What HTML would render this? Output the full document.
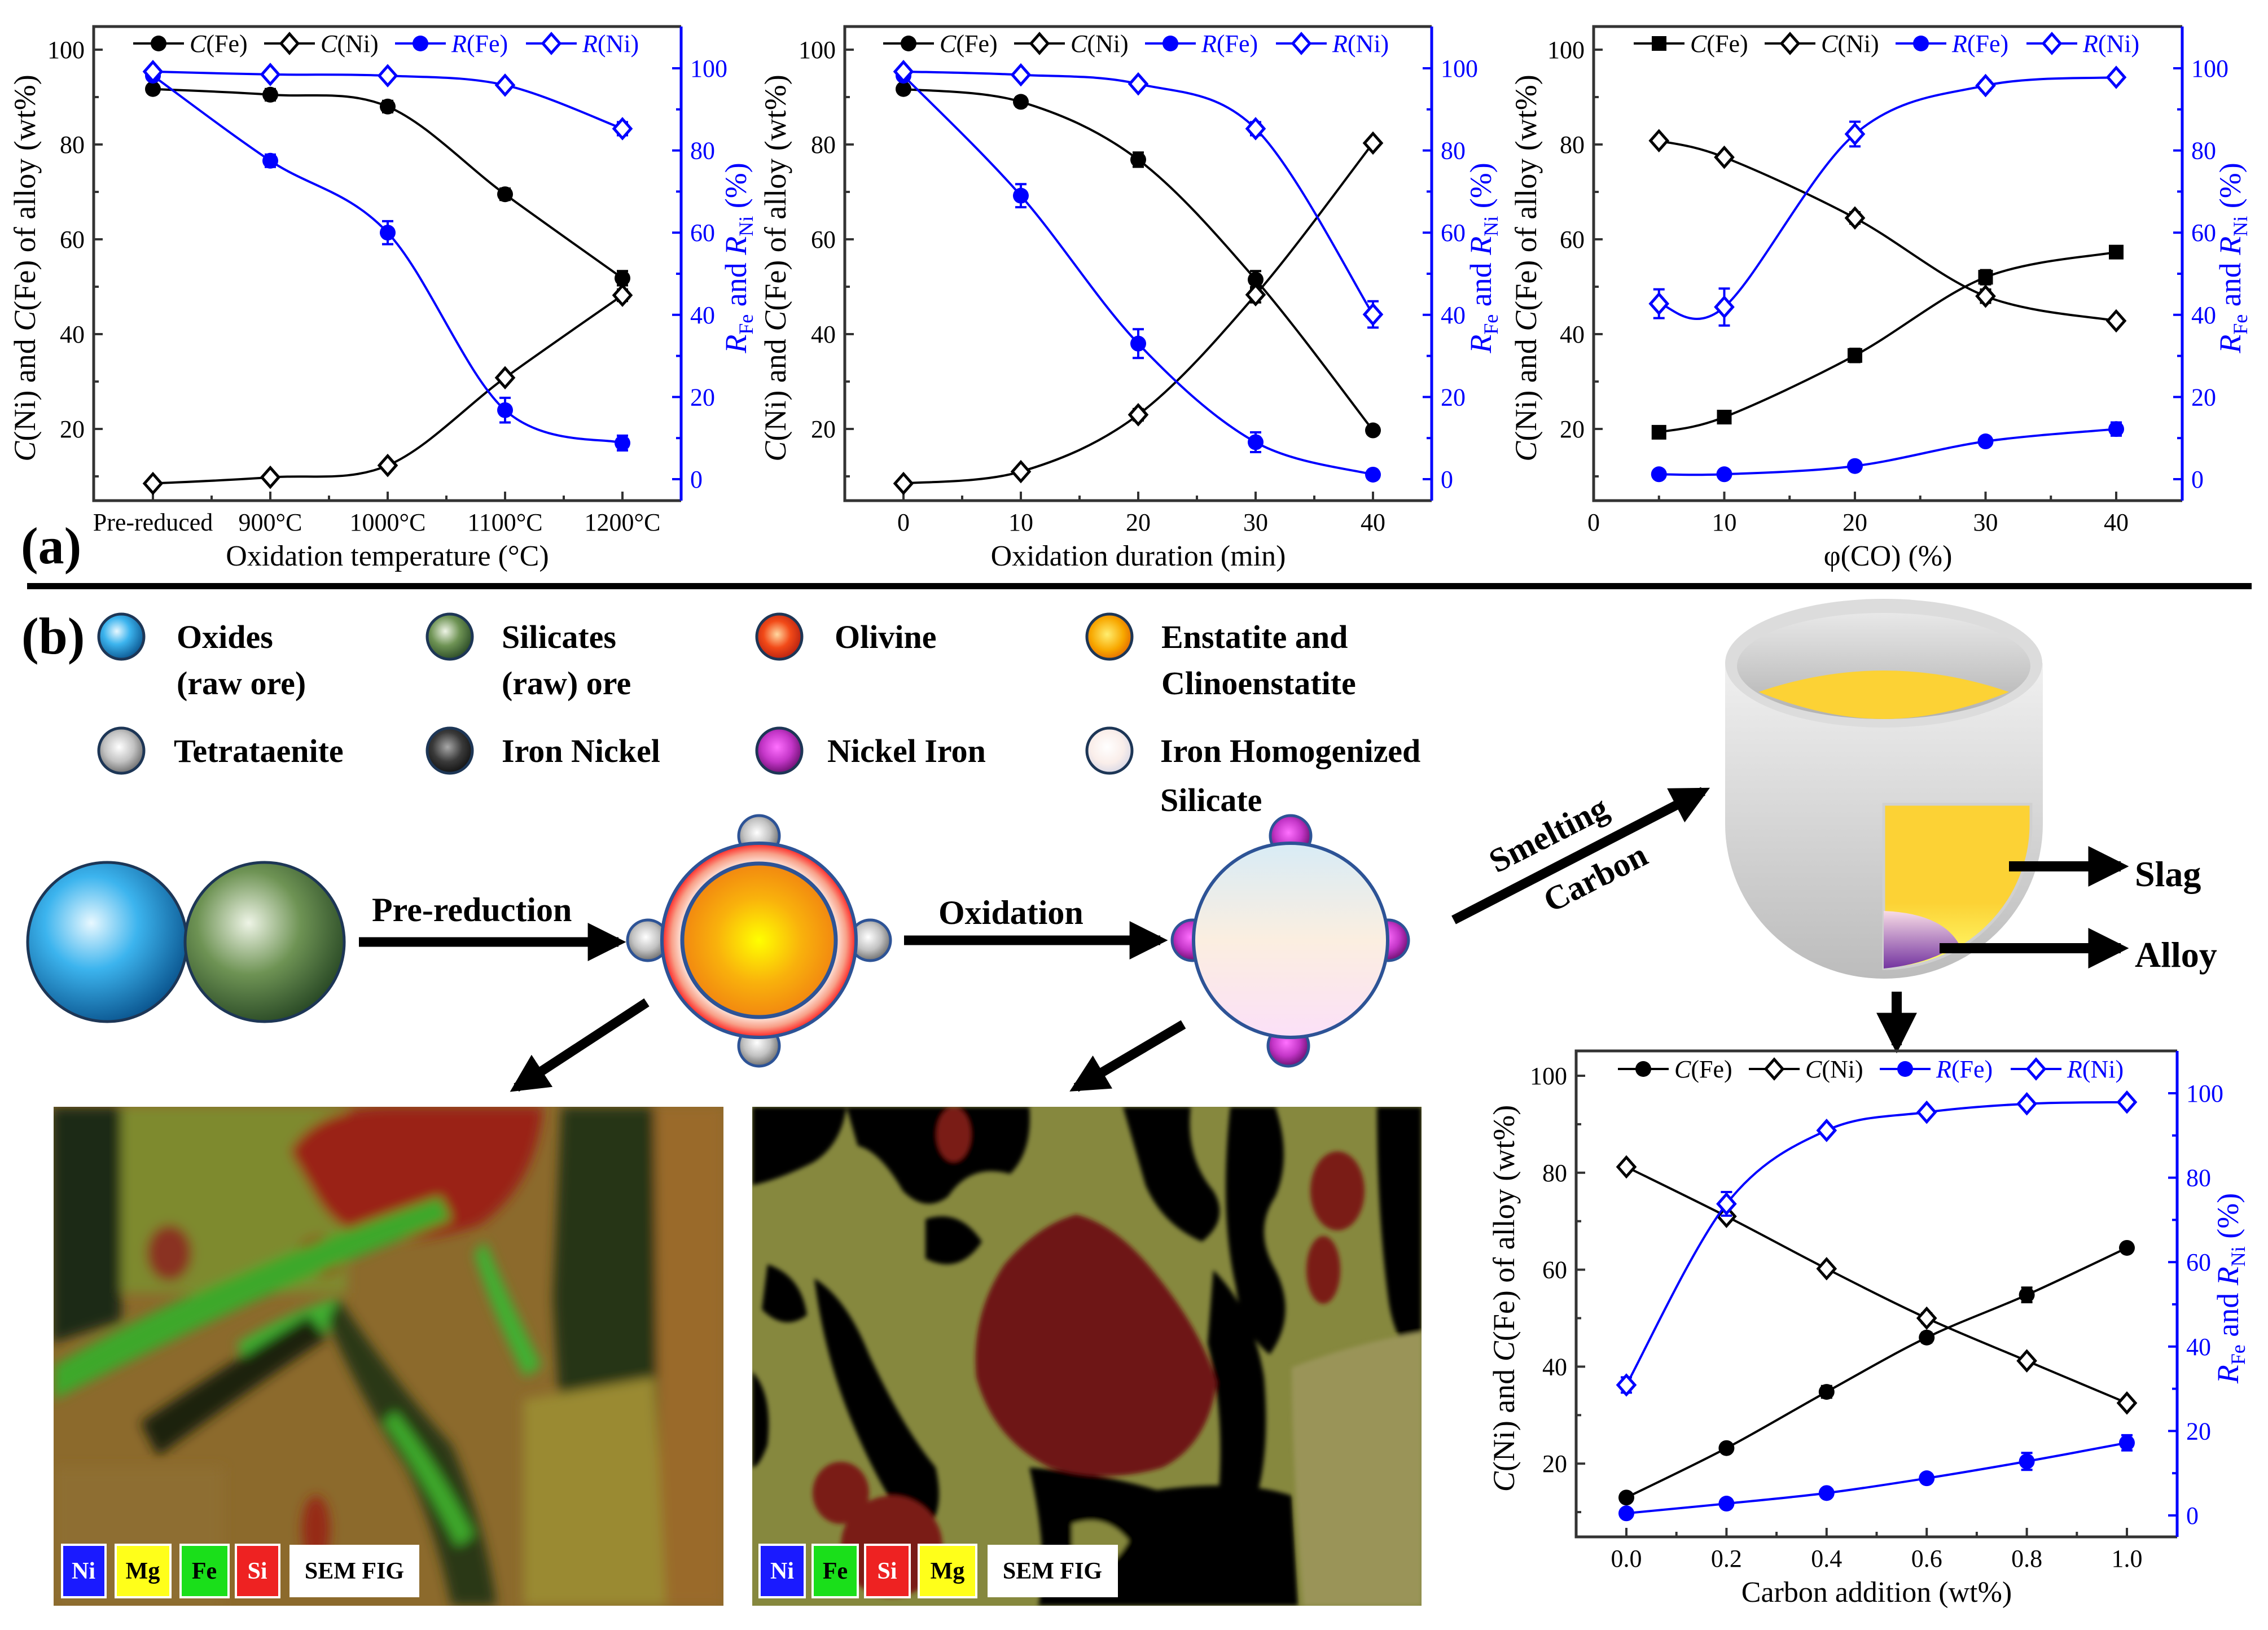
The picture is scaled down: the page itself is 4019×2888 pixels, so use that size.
<!DOCTYPE html>
<html><head><meta charset="utf-8"><title>Figure</title>
<style>
html,body{margin:0;padding:0;background:#fff;}
svg{display:block;}
svg text{font-family:"Liberation Serif","Times New Roman",serif;}
</style></head>
<body>
<svg id="fig" xmlns="http://www.w3.org/2000/svg" width="4019" height="2888" viewBox="0 0 4019 2888" font-family="Liberation Serif, serif">
<defs>
<radialGradient id="gOx" cx="0.4" cy="0.38" r="0.65"><stop offset="0" stop-color="#e8f8ff"/><stop offset="0.45" stop-color="#3cb4ee"/><stop offset="1" stop-color="#0b5690"/></radialGradient>
<radialGradient id="gSi" cx="0.4" cy="0.38" r="0.65"><stop offset="0" stop-color="#eef4e6"/><stop offset="0.5" stop-color="#6e9354"/><stop offset="1" stop-color="#2a4a26"/></radialGradient>
<radialGradient id="gOl" cx="0.45" cy="0.45" r="0.6"><stop offset="0" stop-color="#ffd8a0"/><stop offset="0.5" stop-color="#f24a18"/><stop offset="1" stop-color="#b01c10"/></radialGradient>
<radialGradient id="gEn" cx="0.45" cy="0.45" r="0.6"><stop offset="0" stop-color="#ffee70"/><stop offset="0.6" stop-color="#f8a800"/><stop offset="1" stop-color="#e06400"/></radialGradient>
<radialGradient id="gCore" cx="0.5" cy="0.5" r="0.5"><stop offset="0" stop-color="#ffff00"/><stop offset="0.55" stop-color="#f9b20c"/><stop offset="1" stop-color="#f28810"/></radialGradient>
<radialGradient id="gTe" cx="0.45" cy="0.42" r="0.6"><stop offset="0" stop-color="#ffffff"/><stop offset="0.55" stop-color="#c2c2c2"/><stop offset="1" stop-color="#6a6a6a"/></radialGradient>
<radialGradient id="gIN" cx="0.45" cy="0.42" r="0.6"><stop offset="0" stop-color="#a8a8a8"/><stop offset="0.55" stop-color="#3a3a3a"/><stop offset="1" stop-color="#111"/></radialGradient>
<radialGradient id="gNI" cx="0.45" cy="0.42" r="0.6"><stop offset="0" stop-color="#ff70ff"/><stop offset="0.55" stop-color="#c436c8"/><stop offset="1" stop-color="#6a0e6e"/></radialGradient>
<radialGradient id="gHo" cx="0.45" cy="0.42" r="0.6"><stop offset="0" stop-color="#ffffff"/><stop offset="0.6" stop-color="#faeeea"/><stop offset="1" stop-color="#d8d8e6"/></radialGradient>
<radialGradient id="gRing" cx="0.5" cy="0.5" r="0.5"><stop offset="0.78" stop-color="#fff0e8"/><stop offset="0.9" stop-color="#f8a088"/><stop offset="1" stop-color="#ff2020"/></radialGradient>
<linearGradient id="gHom" x1="0" y1="0" x2="0" y2="1"><stop offset="0" stop-color="#d8ecf6"/><stop offset="0.5" stop-color="#fbeee0"/><stop offset="1" stop-color="#fbe0f8"/></linearGradient>
<linearGradient id="gCru" x1="0" y1="0" x2="0" y2="1"><stop offset="0" stop-color="#f0f0f0"/><stop offset="1" stop-color="#bcbcbc"/></linearGradient>
<linearGradient id="gCruIn" x1="0" y1="0" x2="0" y2="1"><stop offset="0" stop-color="#e8e8e8"/><stop offset="1" stop-color="#b0b0b0"/></linearGradient>
<linearGradient id="gSlag" x1="0" y1="0" x2="0" y2="1"><stop offset="0" stop-color="#fcd235"/><stop offset="0.6" stop-color="#fcd235"/><stop offset="1" stop-color="#ffff70"/></linearGradient>
<linearGradient id="gAlloy" x1="0" y1="0" x2="0" y2="1"><stop offset="0" stop-color="#f8dce6"/><stop offset="1" stop-color="#7434a0"/></linearGradient>
<filter id="blur1"><feGaussianBlur stdDeviation="10"/></filter>
<filter id="blur2"><feGaussianBlur stdDeviation="4"/></filter>
<clipPath id="clipS1"><rect x="95" y="1961" width="1187" height="884"/></clipPath>
<clipPath id="clipS2"><rect x="1333" y="1961" width="1186" height="884"/></clipPath>
<marker id="ah" viewBox="0 0 10 10" refX="8" refY="5" markerWidth="4" markerHeight="4" orient="auto"><path d="M0,0 L10,5 L0,10 z" fill="#000"/></marker>
</defs>

<rect x="48" y="1033" width="3942" height="11" fill="#000"/>
<text x="37" y="998" font-size="92" font-weight="bold">(a)</text>
<text x="38" y="1158" font-size="92" font-weight="bold">(b)</text>

<g font-size="58" font-weight="bold">
  <circle cx="215" cy="1128" r="40" fill="url(#gOx)" stroke="#1d3656" stroke-width="5"/>
  <text x="313" y="1148">Oxides</text>
  <text x="313" y="1230">(raw ore)</text>
  <circle cx="797" cy="1128" r="40" fill="url(#gSi)" stroke="#1d3656" stroke-width="5"/>
  <text x="889" y="1148">Silicates</text>
  <text x="889" y="1230">(raw) ore</text>
  <circle cx="1381" cy="1128" r="40" fill="url(#gOl)" stroke="#1d3656" stroke-width="5"/>
  <text x="1479" y="1148">Olivine</text>
  <circle cx="1966" cy="1128" r="40" fill="url(#gEn)" stroke="#1d3656" stroke-width="5"/>
  <text x="2058" y="1148">Enstatite and</text>
  <text x="2058" y="1230">Clinoenstatite</text>
  <circle cx="215" cy="1330" r="40" fill="url(#gTe)" stroke="#1d3656" stroke-width="5"/>
  <text x="308" y="1350">Tetrataenite</text>
  <circle cx="797" cy="1330" r="40" fill="url(#gIN)" stroke="#1d3656" stroke-width="5"/>
  <text x="889" y="1350">Iron Nickel</text>
  <circle cx="1381" cy="1330" r="40" fill="url(#gNI)" stroke="#1d3656" stroke-width="5"/>
  <text x="1466" y="1350">Nickel Iron</text>
  <circle cx="1966" cy="1330" r="40" fill="url(#gHo)" stroke="#1d3656" stroke-width="5"/>
  <text x="2056" y="1350">Iron Homogenized</text>
  <text x="2056" y="1437">Silicate</text>
</g>

<g>
  <circle cx="190" cy="1669" r="141" fill="url(#gOx)" stroke="#1d3656" stroke-width="5"/>
  <circle cx="469" cy="1669" r="141" fill="url(#gSi)" stroke="#1d3656" stroke-width="5"/>
  <line x1="636" y1="1669" x2="1096" y2="1669" stroke="#000" stroke-width="17" marker-end="url(#ah)"/>
  <text x="659" y="1632" font-size="60" font-weight="bold">Pre-reduction</text>
  <circle cx="1345" cy="1481" r="36" fill="url(#gTe)" stroke="#2d5396" stroke-width="5"/>
  <circle cx="1345" cy="1853" r="36" fill="url(#gTe)" stroke="#2d5396" stroke-width="5"/>
  <circle cx="1148" cy="1666" r="36" fill="url(#gTe)" stroke="#2d5396" stroke-width="5"/>
  <circle cx="1542" cy="1666" r="36" fill="url(#gTe)" stroke="#2d5396" stroke-width="5"/>
  <circle cx="1345" cy="1666" r="172" fill="url(#gRing)" stroke="#2d5396" stroke-width="6"/>
  <circle cx="1345" cy="1666" r="136" fill="url(#gCore)" stroke="#2d5396" stroke-width="7"/>
  <line x1="1602" y1="1666" x2="2056" y2="1666" stroke="#000" stroke-width="17" marker-end="url(#ah)"/>
  <text x="1663" y="1637" font-size="60" font-weight="bold">Oxidation</text>
  <circle cx="2287" cy="1481" r="36" fill="url(#gNI)" stroke="#2d5396" stroke-width="5"/>
  <circle cx="2283" cy="1853" r="36" fill="url(#gNI)" stroke="#2d5396" stroke-width="5"/>
  <circle cx="2113" cy="1666" r="36" fill="url(#gNI)" stroke="#2d5396" stroke-width="5"/>
  <circle cx="2460" cy="1666" r="36" fill="url(#gNI)" stroke="#2d5396" stroke-width="5"/>
  <circle cx="2287" cy="1666" r="172" fill="url(#gHom)" stroke="#2d5396" stroke-width="6"/>
  <line x1="1146" y1="1776" x2="915" y2="1927" stroke="#000" stroke-width="17" marker-end="url(#ah)"/>
  <line x1="2097" y1="1815" x2="1907" y2="1927" stroke="#000" stroke-width="17" marker-end="url(#ah)"/>
  <line x1="2576" y1="1630" x2="3018" y2="1402" stroke="#000" stroke-width="17" marker-end="url(#ah)"/>
  <text x="2745" y="1498" font-size="60" font-weight="bold" text-anchor="middle" transform="rotate(-27 2745 1480)">Smelting</text>
  <text x="2827" y="1575" font-size="60" font-weight="bold" text-anchor="middle" transform="rotate(-27 2827 1555)">Carbon</text>
  <path d="M3057,1175 L3057,1460 A281.5 274 0 0 0 3620,1460 L3620,1175 Z" fill="url(#gCru)"/>
  <ellipse cx="3338" cy="1175" rx="281" ry="114" fill="#dcdcdc"/>
  <ellipse cx="3338" cy="1180" rx="260" ry="94" fill="url(#gCruIn)"/>
  <path d="M3116,1226 Q3338,1150 3560,1226 Q3440,1274 3338,1274 Q3236,1274 3116,1226 Z" fill="#fcd235"/>
  <path d="M3338,1425 L3599,1425 L3599,1460 A261 256 0 0 1 3338,1716 Z" fill="url(#gSlag)" stroke="#d0d0d0" stroke-width="5"/>
  <path d="M3338,1614 Q3440,1618 3471,1672 Q3420,1708 3338,1716 Z" fill="url(#gAlloy)"/>
  <line x1="3560" y1="1535" x2="3758" y2="1535" stroke="#000" stroke-width="18" marker-end="url(#ah)"/>
  <text x="3783" y="1570" font-size="64" font-weight="bold">Slag</text>
  <line x1="3437" y1="1680" x2="3758" y2="1680" stroke="#000" stroke-width="18" marker-end="url(#ah)"/>
  <text x="3783" y="1713" font-size="64" font-weight="bold">Alloy</text>
  <line x1="3361" y1="1757" x2="3361" y2="1852" stroke="#000" stroke-width="18" marker-end="url(#ah)"/>
</g>

<g clip-path="url(#clipS1)">
  <rect x="95" y="1961" width="1187" height="884" fill="#8c6a2c"/>
  <g filter="url(#blur1)">
    <rect x="95" y="1961" width="520" height="330" fill="#7e8a2e"/>
    <path d="M91,1961 L215,1961 L215,2340 L91,2380 Z" fill="#1e2a12"/>
    <path d="M514,2040 Q560,1960 700,1961 L962,1961 Q950,2100 850,2170 Q760,2200 680,2196 Q600,2190 560,2120 Z" fill="#9a2418"/>
    <path d="M995,1961 L1128,1961 L1110,2032 L1000,2040 Z" fill="#a82012"/>
    <ellipse cx="570" cy="2225" rx="45" ry="35" fill="#9a2a18"/>
    <path d="M995,1961 L1160,1961 L1170,2845 L1020,2845 Q990,2500 980,2300 Z" fill="#283416"/>
    <path d="M1160,1961 L1282,1961 L1282,2845 L1170,2845 Z" fill="#9a6a2a"/>
    <path d="M928,2480 L1160,2440 L1180,2845 L928,2845 Z" fill="#9a8a32"/>
    <path d="M95,2420 Q250,2330 420,2260 Q600,2180 780,2120 L800,2160 Q620,2230 440,2310 Q270,2390 95,2480 Z" fill="#3ca82a"/>
    <path d="M420,2380 Q520,2320 600,2300 L620,2340 Q540,2370 440,2430 Z" fill="#40b030"/>
    <path d="M860,2200 Q900,2300 960,2420 L930,2440 Q870,2320 840,2220 Z" fill="#40b030"/>
    <path d="M249,2520 Q400,2420 547,2330 L580,2370 Q430,2470 280,2580 Z" fill="#1a2410"/>
    <path d="M600,2300 Q700,2450 800,2560 Q860,2700 880,2845 L800,2845 Q770,2700 720,2600 Q640,2480 580,2340 Z" fill="#2a3816"/>
    <path d="M700,2500 Q780,2600 840,2720 L810,2740 Q750,2620 680,2520 Z" fill="#3ca82a"/>
    <ellipse cx="560" cy="2710" rx="25" ry="60" fill="#962a18"/>
    <ellipse cx="300" cy="2220" rx="40" ry="50" fill="#8a3020"/>
    <rect x="95" y="2600" width="300" height="245" fill="#8e6e30"/>
  </g>
</g>
<g clip-path="url(#clipS2)">
  <rect x="1333" y="1961" width="1186" height="884" fill="#86883e"/>
  <g filter="url(#blur2)">
    <path d="M1333,1961 L1500,1961 Q1490,2030 1440,2060 Q1380,2090 1333,2100 Z" fill="#000"/>
    <path d="M1500,1961 L1824,1961 Q1830,2040 1790,2080 Q1720,2060 1680,2120 Q1640,2150 1600,2110 Q1560,2040 1520,2030 Z" fill="#000"/>
    <path d="M1640,2160 Q1700,2140 1740,2200 Q1700,2260 1640,2230 Z" fill="#000"/>
    <path d="M1990,1961 L2110,1961 Q2100,2050 2150,2110 Q2180,2160 2130,2200 Q2060,2170 2030,2100 Z" fill="#000"/>
    <path d="M2180,1961 L2260,1961 Q2290,2050 2260,2120 Q2220,2180 2260,2250 Q2300,2330 2250,2400 Q2200,2360 2190,2280 Q2160,2150 2180,1961 Z" fill="#000"/>
    <path d="M2440,1961 L2519,1961 L2519,2420 Q2470,2380 2460,2300 Q2440,2150 2440,1961 Z" fill="#000"/>
    <path d="M1443,2265 Q1500,2300 1540,2400 Q1600,2530 1658,2600 Q1680,2700 1620,2720 Q1560,2640 1510,2520 Q1460,2400 1443,2265 Z" fill="#000"/>
    <path d="M1360,2240 Q1420,2260 1430,2330 Q1390,2360 1350,2320 Z" fill="#000"/>
    <path d="M1333,2430 Q1370,2470 1360,2560 Q1345,2600 1333,2600 Z" fill="#000"/>
    <path d="M1824,2600 Q1950,2610 2050,2640 Q2200,2620 2289,2650 L2300,2845 L1840,2845 Q1860,2760 1824,2600 Z" fill="#000"/>
    <path d="M1900,2700 Q1960,2680 2000,2730 Q1960,2800 1900,2780 Z" fill="#86883e"/>
    <path d="M2150,2250 Q2220,2320 2240,2440 Q2250,2560 2230,2640 L2160,2640 Q2170,2500 2140,2380 Z" fill="#000"/>
    <path d="M1907,2152 Q1980,2170 2050,2260 Q2130,2360 2156,2450 Q2140,2560 2060,2600 Q1960,2630 1860,2600 Q1760,2550 1730,2440 Q1720,2330 1780,2240 Q1840,2170 1907,2152 Z" fill="#6e1612"/>
    <ellipse cx="1580" cy="2740" rx="90" ry="90" fill="#7a1c16"/>
    <ellipse cx="1490" cy="2645" rx="50" ry="55" fill="#7a1c16"/>
    <ellipse cx="2370" cy="2110" rx="48" ry="70" fill="#7a1c16"/>
    <ellipse cx="2345" cy="2250" rx="30" ry="60" fill="#7a1c16"/>
    <ellipse cx="1690" cy="2010" rx="30" ry="48" fill="#7a1c16"/>
    <path d="M2289,2423 Q2400,2380 2519,2360 L2519,2845 L2310,2845 Q2290,2600 2289,2423 Z" fill="#9a9458"/>
  </g>
</g>
<g font-size="42" font-weight="bold" text-anchor="middle">
  <rect x="110" y="2737" width="77" height="93" fill="#1a1aff" stroke="#fff" stroke-width="4"/><text x="148" y="2797" fill="#fff">Ni</text>
  <rect x="205" y="2737" width="97" height="93" fill="#ffff1a" stroke="#fff" stroke-width="4"/><text x="253" y="2797">Mg</text>
  <rect x="320" y="2737" width="85" height="93" fill="#1adf1a" stroke="#fff" stroke-width="4"/><text x="362" y="2797">Fe</text>
  <rect x="418" y="2737" width="77" height="93" fill="#ee2222" stroke="#fff" stroke-width="4"/><text x="456" y="2797" fill="#fff">Si</text>
  <rect x="513" y="2737" width="230" height="93" fill="#fff"/><text x="628" y="2797">SEM FIG</text>
</g>
<g font-size="42" font-weight="bold" text-anchor="middle">
  <rect x="1346" y="2737" width="80" height="93" fill="#1a1aff" stroke="#fff" stroke-width="4"/><text x="1386" y="2797" fill="#fff">Ni</text>
  <rect x="1440" y="2737" width="80" height="93" fill="#1adf1a" stroke="#fff" stroke-width="4"/><text x="1480" y="2797">Fe</text>
  <rect x="1533" y="2737" width="79" height="93" fill="#ee2222" stroke="#fff" stroke-width="4"/><text x="1572" y="2797" fill="#fff">Si</text>
  <rect x="1628" y="2737" width="102" height="93" fill="#ffff1a" stroke="#fff" stroke-width="4"/><text x="1679" y="2797">Mg</text>
  <rect x="1750" y="2737" width="231" height="93" fill="#fff"/><text x="1865" y="2797">SEM FIG</text>
</g>

<g id="charts"></g>
</svg>

<script>
// ---------- chart data ----------
const c1Cats = ["Pre-reduced","900°C","1000°C","1100°C","1200°C"];
const c1X = [0,1,2,3,4];
const c1CFe = [91.7,90.5,88.0,69.5,51.8];
const c1CNi = [8.5,9.8,12.3,30.8,48.2];
const c1RFe = [98.2,77.5,60.0,16.8,8.8];
const c1RNi = [99.2,98.5,98.2,95.9,85.3];
const c1ErrCFe = [0.6,1.2,1.2,1.2,1.5];
const c1ErrCNi = [0.4,0.5,0.6,0.8,1.2];
const c1ErrRFe = [0.8,1.5,2.8,3.0,1.8];
const c1ErrRNi = [0.5,0.5,0.6,0.8,1.6];

const c2X = [0,10,20,30,40];
const c2Ticks = ["0","10","20","30","40"];
const c2CFe = [91.7,89.0,76.8,51.5,19.7];
const c2CNi = [8.5,11.0,23.0,48.3,80.3];
const c2RFe = [98.2,69.0,33.0,9.0,1.1];
const c2RNi = [99.2,98.4,96.2,85.3,40.1];
const c2ErrCFe = [0.6,1.0,1.5,1.8,0.6];
const c2ErrCNi = [0.4,0.5,1.2,1.6,0.6];
const c2ErrRFe = [0.8,2.8,3.5,2.4,0.6];
const c2ErrRNi = [0.5,0.6,0.8,1.6,3.2];

const c3X = [5,10,20,30,40];
const c3Ticks = ["0","10","20","30","40"];
const c3CFe = [19.3,22.5,35.5,52.0,57.3];
const c3CNi = [80.8,77.3,64.5,48.0,42.8];
const c3RFe = [1.2,1.2,3.2,9.2,12.2];
const c3RNi = [42.7,41.9,84.0,95.8,97.8];
const c3ErrCFe = [0.6,1.0,1.4,1.5,1.0];
const c3ErrCNi = [0.5,0.8,1.2,1.4,0.8];
const c3ErrRFe = [0.4,0.4,0.6,0.8,1.6];
const c3ErrRNi = [3.5,4.5,3.0,1.2,0.8];

const c4X = [0,0.2,0.4,0.6,0.8,1.0];
const c4Ticks = ["0.0","0.2","0.4","0.6","0.8","1.0"];
const c4CFe = [13.0,23.2,34.8,46.0,54.8,64.5];
const c4CNi = [81.2,71.0,60.2,50.0,41.2,32.5];
const c4RFe = [0.5,2.8,5.3,8.8,12.8,17.2];
const c4RNi = [30.9,73.8,91.2,95.5,97.5,97.9];
const c4ErrCFe = [0.6,0.6,1.2,1.0,1.5,0.6];
const c4ErrCNi = [0.5,0.6,0.6,1.0,0.8,0.6];
const c4ErrRFe = [0.4,0.6,0.6,0.6,2.0,1.8];
const c4ErrRNi = [1.8,2.8,1.0,0.8,0.6,0.6];

const leftTicks = [20,40,60,80,100];
const rightTicks = [0,20,40,60,80,100];

// ---------- rendering ----------
const NS = "http://www.w3.org/2000/svg";
const root = document.getElementById("charts");
function el(tag, attrs, parent) {
  const e = document.createElementNS(NS, tag);
  for (const k in attrs) e.setAttribute(k, attrs[k]);
  (parent || root).appendChild(e);
  return e;
}
function smooth(pts) {
  let d = "M" + pts[0][0] + "," + pts[0][1];
  for (let i = 0; i < pts.length - 1; i++) {
    const p0 = pts[i - 1] || pts[i], p1 = pts[i], p2 = pts[i + 1], p3 = pts[i + 2] || p2;
    const c1x = p1[0] + (p2[0] - p0[0]) / 6, c1y = p1[1] + (p2[1] - p0[1]) / 6;
    const c2x = p2[0] - (p3[0] - p1[0]) / 6, c2y = p2[1] - (p3[1] - p1[1]) / 6;
    d += " C" + c1x + "," + c1y + " " + c2x + "," + c2y + " " + p2[0] + "," + p2[1];
  }
  return d;
}
function marker(g, shape, x, y, color) {
  let m;
  if (shape === "circle") {
    m = el("circle", {cx: x, cy: y, r: 14, fill: color}, g);
  } else if (shape === "square") {
    m = el("rect", {x: x - 13, y: y - 13, width: 26, height: 26, fill: color}, g);
  } else {
    m = el("path", {d: "M" + x + "," + (y - 17) + " L" + (x + 15) + "," + y + " L" + x + "," + (y + 17) + " L" + (x - 15) + "," + y + " Z", fill: "#fff", stroke: color, "stroke-width": 5}, g);
  }
  return m;
}
function titleText(g, x, y, kind, color) {
  const t = el("text", {x: x, y: y, "font-size": 54, fill: color, "text-anchor": "middle", transform: "rotate(-90 " + x + " " + y + ")"}, g);
  if (kind === "left") {
    t.innerHTML = '<tspan font-style="italic">C</tspan>(Ni) and <tspan font-style="italic">C</tspan>(Fe) of alloy (wt%)';
  } else {
    t.innerHTML = '<tspan font-style="italic">R</tspan><tspan font-size="36" dy="12">Fe</tspan><tspan dy="-12"> and </tspan><tspan font-style="italic">R</tspan><tspan font-size="36" dy="12">Ni</tspan><tspan dy="-12"> (%)</tspan>';
  }
  return t;
}

function drawChart(cfg, xs, xLabels, xTickVals, data) {
  const g = el("g", {});
  
  
  const B = cfg.box;
  const X = cfg.x, YL = cfg.yL, YR = cfg.yR;
  const fr = el("path", {d: "M" + B.r + "," + B.t + " L" + B.l + "," + B.t + " L" + B.l + "," + B.b + " L" + B.r + "," + B.b, fill: "none", stroke: "#333", "stroke-width": 5}, g);
  
  
  const ra = el("line", {x1: B.r, y1: B.t, x2: B.r, y2: B.b, stroke: "#0000ff", "stroke-width": 5}, g);
  
  
  for (const v of leftTicks) {
    const y = YL(v);
    el("line", {x1: B.l, y1: y, x2: B.l + 16, y2: y, stroke: "#333", "stroke-width": 4}, g);
    const t = el("text", {x: B.l - 16, y: y + 15, "font-size": 44, "text-anchor": "end"}, g);
    t.textContent = v;
    
    
    if (YL(v - 10) < B.b) el("line", {x1: B.l, y1: YL(v - 10), x2: B.l + 9, y2: YL(v - 10), stroke: "#333", "stroke-width": 4}, g);
  }
  for (const v of rightTicks) {
    const y = YR(v);
    el("line", {x1: B.r, y1: y, x2: B.r - 16, y2: y, stroke: "#0000ff", "stroke-width": 4}, g);
    const t = el("text", {x: B.r + 16, y: y + 15, "font-size": 44, fill: "#0000ff"}, g);
    t.textContent = v;
    
    
    if (v < 100) el("line", {x1: B.r, y1: YR(v + 10), x2: B.r - 9, y2: YR(v + 10), stroke: "#0000ff", "stroke-width": 4}, g);
  }
  for (let i = 0; i < xTickVals.length; i++) {
    const x = X(xTickVals[i]);
    if (x > B.l + 2 && x < B.r - 2) el("line", {x1: x, y1: B.b, x2: x, y2: B.b - 16, stroke: "#333", "stroke-width": 4}, g);
    const t = el("text", {x: x, y: B.b + 53, "font-size": 44, "text-anchor": "middle"}, g);
    t.textContent = xLabels[i];
    
    
    if (i < xTickVals.length - 1) {
      const xm = X((xTickVals[i] + xTickVals[i + 1]) / 2);
      el("line", {x1: xm, y1: B.b, x2: xm, y2: B.b - 9, stroke: "#333", "stroke-width": 4}, g);
    }
  }
  const xt = el("text", {x: (B.l + B.r) / 2, y: B.b + 115, "font-size": 52, "text-anchor": "middle"}, g);
  xt.textContent = cfg.xTitle;
  
  
  const lt = titleText(g, cfg.leftTitleX, (B.t + B.b) / 2 + 8, "left", "#000");
  
  
  const rt = titleText(g, cfg.rightTitleX, (B.t + B.b) / 2 - 10, "right", "#0000ff");
  
  

  const series = [
    {name: "c-fe", vals: data.cfe, y: YL, color: "#000", shape: cfg.feShape, err: data.ecfe, lbl: "Fe", pre: "C"},
    {name: "c-ni", vals: data.cni, y: YL, color: "#000", shape: "diamond", err: data.ecni, lbl: "Ni", pre: "C"},
    {name: "r-fe", vals: data.rfe, y: YR, color: "#0000ff", shape: "circle", err: data.erfe, lbl: "Fe", pre: "R"},
    {name: "r-ni", vals: data.rni, y: YR, color: "#0000ff", shape: "diamond", err: data.erni, lbl: "Ni", pre: "R"}
  ];
  series.forEach((s, si) => {
    const sg = el("g", {}, g);
    
    
    const pts = xs.map((xv, i) => [X(xv), s.y(s.vals[i])]);
    const ln = el("path", {d: smooth(pts), fill: "none", stroke: s.color, "stroke-width": 4}, sg);
    
    
    pts.forEach((p, i) => {
      const e = s.err[i];
      const y1 = s.y(s.vals[i] + e), y2 = s.y(s.vals[i] - e);
      el("line", {x1: p[0], y1: y1, x2: p[0], y2: y2, stroke: s.color, "stroke-width": 4}, sg);
      el("line", {x1: p[0] - 10, y1: y1, x2: p[0] + 10, y2: y1, stroke: s.color, "stroke-width": 4}, sg);
      el("line", {x1: p[0] - 10, y1: y2, x2: p[0] + 10, y2: y2, stroke: s.color, "stroke-width": 4}, sg);
      const m = marker(sg, s.shape, p[0], p[1], s.color);
      
      
    });
    const lx = B.l + cfg.legOff + si * 232, ly = B.t + cfg.legY;
    const lg = el("g", {}, g);
    
    
    el("line", {x1: lx, y1: ly, x2: lx + 90, y2: ly, stroke: s.color, "stroke-width": 4}, lg);
    marker(lg, s.shape, lx + 45, ly, s.color);
    const tt = el("text", {x: lx + 100, y: ly + 15, "font-size": 44, fill: s.color}, lg);
    tt.innerHTML = '<tspan font-style="italic">' + s.pre + '</tspan>(' + s.lbl + ')';
  });
}

drawChart({name: "chart-oxidation-temperature", box: {l: 166, r: 1207, t: 47, b: 887},
  x: v => 271 + v * 208, yL: v => 88 + (100 - v) * 8.4, yR: v => 849 - v * 7.28,
  xTitle: "Oxidation temperature (°C)", leftTitleX: 62, rightTitleX: 1322, feShape: "circle", legOff: 70, legY: 30},
  c1X, c1Cats, c1X, {cfe: c1CFe, cni: c1CNi, rfe: c1RFe, rni: c1RNi, ecfe: c1ErrCFe, ecni: c1ErrCNi, erfe: c1ErrRFe, erni: c1ErrRNi});

drawChart({name: "chart-oxidation-duration", box: {l: 1497, r: 2537, t: 47, b: 887},
  x: v => 1601 + v * 20.8, yL: v => 88 + (100 - v) * 8.4, yR: v => 849 - v * 7.28,
  xTitle: "Oxidation duration (min)", leftTitleX: 1392, rightTitleX: 2642, feShape: "circle", legOff: 68, legY: 30},
  c2X, c2Ticks, [0,10,20,30,40], {cfe: c2CFe, cni: c2CNi, rfe: c2RFe, rni: c2RNi, ecfe: c2ErrCFe, ecni: c2ErrCNi, erfe: c2ErrRFe, erni: c2ErrRNi});

drawChart({name: "chart-co-fraction", box: {l: 2824, r: 3867, t: 47, b: 887},
  x: v => 2824 + v * 23.15, yL: v => 88 + (100 - v) * 8.4, yR: v => 849 - v * 7.28,
  xTitle: "φ(CO) (%)", leftTitleX: 2722, rightTitleX: 3970, feShape: "square", legOff: 71, legY: 30},
  c3X, c3Ticks, [0,10,20,30,40], {cfe: c3CFe, cni: c3CNi, rfe: c3RFe, rni: c3RNi, ecfe: c3ErrCFe, ecni: c3ErrCNi, erfe: c3ErrRFe, erni: c3ErrRNi});

drawChart({name: "chart-carbon-addition", box: {l: 2793, r: 3858, t: 1862, b: 2723},
  x: v => 2882 + v * 887, yL: v => 1906 + (100 - v) * 8.59, yR: v => 2685 - v * 7.48,
  xTitle: "Carbon addition (wt%)", leftTitleX: 2683, rightTitleX: 3966, feShape: "circle", legOff: 74, legY: 32},
  c4X, c4Ticks, c4X, {cfe: c4CFe, cni: c4CNi, rfe: c4RFe, rni: c4RNi, ecfe: c4ErrCFe, ecni: c4ErrCNi, erfe: c4ErrRFe, erni: c4ErrRNi});
</script>
</body></html>
